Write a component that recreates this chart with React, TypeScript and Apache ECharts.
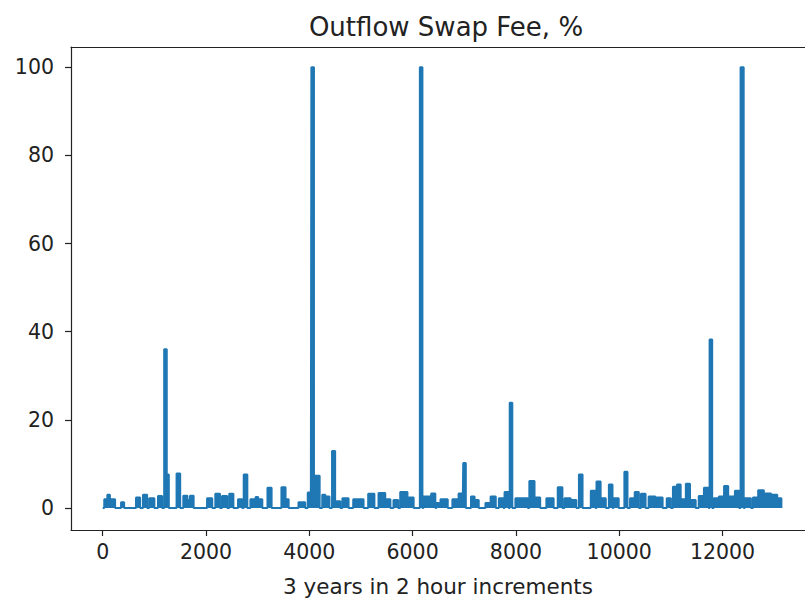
import React, { useEffect, useRef } from "react";
import * as echarts from "echarts";

// Features: [start step, end step] and fee value (%)
const segStart = [30, 90, 140, 355, 645, 780, 900, 1070, 1190, 1240, 1430, 1560, 1640, 1690, 2020, 2180, 2310, 2450, 2620, 2730, 2860, 2960, 3010, 3190, 3460, 3540, 3790, 3970, 4040, 4100, 4250, 4310, 4440, 4500, 4640, 4850, 5140, 5340, 5470, 5630, 5760, 5900, 6140, 6210, 6360, 6460, 6540, 6770, 6890, 6980, 7130, 7200, 7410, 7510, 7670, 7780, 7880, 7990, 8260, 8360, 8590, 8810, 8940, 9060, 9220, 9450, 9560, 9640, 9800, 9890, 10100, 10210, 10300, 10420, 10570, 10700, 10920, 11040, 11100, 11120, 11190, 11290, 11370, 11540, 11640, 11750, 11830, 11930, 12030, 12110, 12240, 12350, 12430, 12590, 12690, 12800, 12940, 13060];
const segEnd = [90, 140, 240, 415, 725, 860, 1000, 1150, 1240, 1280, 1500, 1640, 1690, 1760, 2120, 2270, 2410, 2530, 2700, 2800, 2960, 3010, 3090, 3270, 3540, 3600, 3920, 4030, 4090, 4200, 4310, 4390, 4500, 4600, 4760, 5050, 5260, 5470, 5570, 5720, 5900, 6020, 6190, 6350, 6440, 6540, 6680, 6890, 6970, 7030, 7200, 7280, 7510, 7610, 7760, 7860, 7930, 8230, 8360, 8470, 8730, 8900, 9060, 9170, 9290, 9540, 9640, 9740, 9870, 9990, 10160, 10300, 10380, 10510, 10700, 10840, 11000, 11100, 11120, 11190, 11290, 11370, 11480, 11640, 11730, 11800, 11930, 12030, 12110, 12240, 12320, 12410, 12550, 12690, 12800, 12940, 13060, 13140];
const segValue = [2.0, 3.0, 2.0, 1.3, 2.4, 3.0, 2.2, 2.7, 36, 7.6, 7.8, 2.8, 1.8, 2.8, 2.2, 3.2, 2.7, 3.2, 2.0, 7.6, 2.0, 2.5, 2.0, 4.6, 4.7, 2.0, 1.3, 3.5, 100, 7.3, 3.0, 2.6, 12.9, 1.5, 2.2, 2.0, 3.2, 3.4, 2.0, 1.8, 3.6, 2.4, 100, 2.6, 3.3, 1.1, 2.0, 2.0, 3.3, 10.2, 2.6, 1.8, 1.1, 2.6, 2.2, 3.6, 23.9, 2.2, 6.1, 2.4, 2.2, 4.7, 2.2, 1.8, 7.6, 3.9, 6.0, 2.2, 5.3, 2.2, 8.2, 2.2, 3.6, 3.2, 2.6, 2.4, 2.2, 4.8, 2.6, 5.3, 2.0, 5.5, 1.8, 2.7, 4.6, 38.2, 2.2, 2.6, 5.0, 2.6, 3.9, 100, 2.2, 2.4, 4.0, 3.3, 3.0, 2.2];
const seriesFirst = 0;
const seriesLast = 13140;

const xTicks = [0, 2000, 4000, 6000, 8000, 10000, 12000];
const yTicks = [0, 20, 40, 60, 80, 100];

const FONT = "DejaVu Sans";
const TEXT = "#222222";
const SPINE = { color: "#222", width: 1.2 };

export default function App() {
  const ref = useRef<HTMLDivElement>(null);
  useEffect(() => {
    if (!ref.current) return;
    const chart = echarts.init(ref.current, undefined, { renderer: "svg" });
    const pts: number[][] = [[seriesFirst, 0]];
    for (let i = 0; i < segStart.length; i++) {
      pts.push([segStart[i], 0], [segStart[i], segValue[i]], [segEnd[i], segValue[i]], [segEnd[i], 0]);
    }
    pts.push([seriesLast, 0]);
    const xMin = -614;
    const xMax = 13597;
    chart.setOption({
      animation: false,
      backgroundColor: "#ffffff",
      title: {
        text: "Outflow Swap Fee, %",
        left: 441,
        top: 9,
        textAlign: "center",
        textStyle: { fontFamily: FONT, fontSize: 26, fontWeight: "normal", color: TEXT },
      },
      grid: {
        left: 71,
        right: 0,
        top: 47,
        bottom: 71.6,
        show: false,
      },
      xAxis: [
        {
          type: "value",
          min: xMin,
          max: xMax,
          name: "3 years in 2 hour increments",
          nameLocation: "middle",
          nameGap: 45,
          nameTextStyle: { fontFamily: FONT, fontSize: 21.5, color: TEXT },
          axisLine: { show: true, onZero: false, lineStyle: SPINE },
          axisTick: { show: true, inside: false, length: 6, customValues: xTicks, lineStyle: SPINE },
          axisLabel: {
            customValues: xTicks,
            margin: 11,
            fontFamily: FONT,
            fontSize: 20.5,
            color: TEXT,
            formatter: (v: number) => String(v),
          },
          splitLine: { show: false },
        },
        {
          type: "value",
          position: "top",
          min: xMin,
          max: xMax,
          axisLine: { show: true, onZero: false, lineStyle: SPINE },
          axisTick: { show: false },
          axisLabel: { show: false },
          splitLine: { show: false },
        },
      ],
      yAxis: {
        type: "value",
        min: -5,
        max: 104.6,
        axisLine: { show: true, onZero: false, lineStyle: SPINE },
        axisTick: { show: true, inside: false, length: 6, customValues: yTicks, lineStyle: SPINE },
        axisLabel: {
          customValues: yTicks,
          margin: 17,
          fontFamily: FONT,
          fontSize: 20.5,
          color: TEXT,
          formatter: (v: number) => String(v),
        },
        splitLine: { show: false },
      },
      series: [
        {
          type: "line",
          xAxisIndex: 0,
          data: pts,
          showSymbol: false,
          symbol: "none",
          clip: true,
          lineStyle: { color: "#1f77b4", width: 2 },
          areaStyle: { color: "#1f77b4", opacity: 1, origin: 0 },
          itemStyle: { color: "#1f77b4" },
        },
      ],
    });
    return () => chart.dispose();
  }, []);
  return (
    <div
      ref={ref}
      style={{ position: "fixed", left: 0, top: 0, width: 805, height: 602, background: "#fff" }}
    />
  );
}
